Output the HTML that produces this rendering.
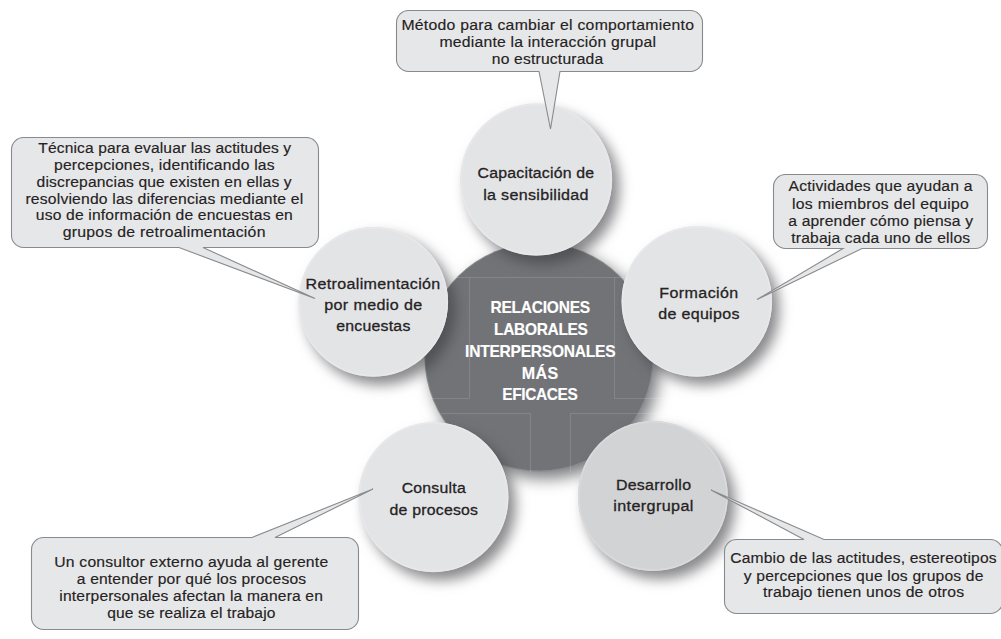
<!DOCTYPE html>
<html><head><meta charset="utf-8">
<style>
html,body{margin:0;padding:0;background:#fff;}
svg{display:block;}
text{font-family:"Liberation Sans",sans-serif;fill:#252223;stroke:#252223;stroke-width:0.16px;text-anchor:middle;}
.b{font-size:15.3px;}
.c{font-size:15.5px;stroke-width:0.3px;}
.m{font-size:15.9px;font-weight:bold;fill:#fff;stroke:#fff;stroke-width:0.15px;}
</style></head>
<body>
<svg width="1001" height="639" viewBox="0 0 1001 639">
<defs>
<filter id="sh" x="-30%" y="-30%" width="160%" height="160%" color-interpolation-filters="sRGB">
<feGaussianBlur in="SourceAlpha" stdDeviation="6.5"/>
<feOffset dx="7" dy="8" result="b"/>
<feFlood flood-color="#3a3b40" flood-opacity="0.6"/>
<feComposite in2="b" operator="in"/>
<feMerge><feMergeNode/><feMergeNode in="SourceGraphic"/></feMerge>
</filter>
<filter id="sh2" x="-30%" y="-30%" width="160%" height="160%" color-interpolation-filters="sRGB">
<feGaussianBlur in="SourceAlpha" stdDeviation="8"/>
<feOffset dx="6" dy="7" result="b"/>
<feFlood flood-color="#3a3b40" flood-opacity="0.68"/>
<feComposite in2="b" operator="in"/>
<feMerge><feMergeNode/><feMergeNode in="SourceGraphic"/></feMerge>
</filter>
</defs>
<circle cx="539" cy="357" r="114.5" fill="#727377" filter="url(#sh2)"/>
<circle cx="539" cy="357" r="114" fill="none" stroke="rgba(255,255,255,0.18)" stroke-width="1"/>
<g filter="url(#sh)"><circle cx="536.2" cy="179.6" r="76" fill="#e3e4e6"/><circle cx="536.2" cy="179.6" r="75" fill="none" stroke="#e8e8ea" stroke-width="1.6"/></g>
<g filter="url(#sh)"><circle cx="373.3" cy="301.9" r="74.8" fill="#e3e4e6"/><circle cx="373.3" cy="301.9" r="73.8" fill="none" stroke="#e8e8ea" stroke-width="1.6"/></g>
<g filter="url(#sh)"><circle cx="696.8" cy="301.5" r="75.3" fill="#e3e4e6"/><circle cx="696.8" cy="301.5" r="74.3" fill="none" stroke="#e8e8ea" stroke-width="1.6"/></g>
<g filter="url(#sh)"><circle cx="433.5" cy="497.2" r="75" fill="#e3e4e6"/><circle cx="433.5" cy="497.2" r="74" fill="none" stroke="#e8e8ea" stroke-width="1.6"/></g>
<g filter="url(#sh)"><circle cx="652.9" cy="496" r="75" fill="#d2d3d5"/><circle cx="652.9" cy="496" r="74" fill="none" stroke="#d9dadc" stroke-width="1.6"/></g>
<path d="M455,277.5 H624 M469.5,277.5 V398.5 M614.5,277.5 V398.5 M426,398.5 H469.5 M614.5,398.5 H670 M441,413.5 H530.5 V472 M570.5,472 V413.5 H690" stroke="rgba(255,255,255,0.13)" stroke-width="1" fill="none"/>
<g fill="#e6e7e8" stroke="#898a8d" stroke-width="1.1">
<path d="M408.5,10.5 H690.5 A12,12 0 0 1 702.5,22.5 V59.5 A12,12 0 0 1 690.5,71.5 H560 L550.5,129 L539,71.5 H408.5 A12,12 0 0 1 396.5,59.5 V22.5 A12,12 0 0 1 408.5,10.5 Z"/>
<path d="M23.5,137.5 H306.5 A12,12 0 0 1 318.5,149.5 V235.5 A12,12 0 0 1 306.5,247.5 H203 L315,298.5 L179,247.5 H23.5 A12,12 0 0 1 11.5,235.5 V149.5 A12,12 0 0 1 23.5,137.5 Z"/>
<path d="M785.5,174.5 H975.5 A12,12 0 0 1 987.5,186.5 V236.5 A12,12 0 0 1 975.5,248.5 H862 L757,299.5 L843,248.5 H785.5 A12,12 0 0 1 773.5,236.5 V186.5 A12,12 0 0 1 785.5,174.5 Z"/>
<path d="M43.5,537.5 H252 L373,489 L275,537.5 H346.5 A12,12 0 0 1 358.5,549.5 V617.5 A12,12 0 0 1 346.5,629.5 H43.5 A12,12 0 0 1 31.5,617.5 V549.5 A12,12 0 0 1 43.5,537.5 Z"/>
<path d="M736.5,539.5 H804 L711,490 L824,539.5 H990.5 A12,12 0 0 1 1002.5,551.5 V601.5 A12,12 0 0 1 990.5,613.5 H736.5 A12,12 0 0 1 724.5,601.5 V551.5 A12,12 0 0 1 736.5,539.5 Z"/>
</g>
<text class="b" x="547.8" y="30.1" style="letter-spacing:0.251px" textLength="292.8" lengthAdjust="spacingAndGlyphs">Método para cambiar el comportamiento</text>
<text class="b" x="547.8" y="46.6" style="letter-spacing:0.218px" textLength="216.8" lengthAdjust="spacingAndGlyphs">mediante la interacción grupal</text>
<text class="b" x="547.6" y="63.5" style="letter-spacing:0.188px" textLength="111.6" lengthAdjust="spacingAndGlyphs">no estructurada</text>
<text class="b" x="164.8" y="153.0" style="letter-spacing:0.126px" textLength="252.9" lengthAdjust="spacingAndGlyphs">Técnica para evaluar las actitudes y</text>
<text class="b" x="164.4" y="170.0" style="letter-spacing:0.192px" textLength="220.8" lengthAdjust="spacingAndGlyphs">percepciones, identificando las</text>
<text class="b" x="164.2" y="186.5" style="letter-spacing:0.146px" textLength="255.2" lengthAdjust="spacingAndGlyphs">discrepancias que existen en ellas y</text>
<text class="b" x="164.4" y="203.5" style="letter-spacing:0.189px" textLength="278.0" lengthAdjust="spacingAndGlyphs">resolviendo las diferencias mediante el</text>
<text class="b" x="164.4" y="220.0" style="letter-spacing:0.173px" textLength="257.2" lengthAdjust="spacingAndGlyphs">uso de información de encuestas en</text>
<text class="b" x="164.2" y="237.3" style="letter-spacing:0.257px" textLength="203.0" lengthAdjust="spacingAndGlyphs">grupos de retroalimentación</text>
<text class="b" x="880.6" y="191.2" style="letter-spacing:0.190px" textLength="184.0" lengthAdjust="spacingAndGlyphs">Actividades que ayudan a</text>
<text class="b" x="880.6" y="208.5" style="letter-spacing:0.256px" textLength="177.1" lengthAdjust="spacingAndGlyphs">los miembros del equipo</text>
<text class="b" x="880.7" y="225.5" style="letter-spacing:0.174px" textLength="184.9" lengthAdjust="spacingAndGlyphs">a aprender cómo piensa y</text>
<text class="b" x="880.8" y="242.5" style="letter-spacing:0.165px" textLength="178.9" lengthAdjust="spacingAndGlyphs">trabaja cada uno de ellos</text>
<text class="b" x="191.3" y="566.7" style="letter-spacing:0.204px" textLength="274.1" lengthAdjust="spacingAndGlyphs">Un consultor externo ayuda al gerente</text>
<text class="b" x="191.5" y="583.9" style="letter-spacing:0.168px" textLength="229.5" lengthAdjust="spacingAndGlyphs">a entender por qué los procesos</text>
<text class="b" x="191.2" y="600.6" style="letter-spacing:0.159px" textLength="263.7" lengthAdjust="spacingAndGlyphs">interpersonales afectan la manera en</text>
<text class="b" x="191.4" y="617.6" style="letter-spacing:0.120px" textLength="168.2" lengthAdjust="spacingAndGlyphs">que se realiza el trabajo</text>
<text class="b" x="863.5" y="563.4" style="letter-spacing:0.158px" textLength="266.5" lengthAdjust="spacingAndGlyphs">Cambio de las actitudes, estereotipos</text>
<text class="b" x="863.7" y="580.8" style="letter-spacing:0.179px" textLength="239.9" lengthAdjust="spacingAndGlyphs">y percepciones que los grupos de</text>
<text class="b" x="863.6" y="596.7" style="letter-spacing:0.217px" textLength="201.4" lengthAdjust="spacingAndGlyphs">trabajo tienen unos de otros</text>
<text class="c" x="536.0" y="178.1" style="letter-spacing:0.202px" textLength="116.8" lengthAdjust="spacingAndGlyphs">Capacitación de</text>
<text class="c" x="536.0" y="199.8" style="letter-spacing:0.295px" textLength="105.6" lengthAdjust="spacingAndGlyphs">la sensibilidad</text>
<text class="c" x="373.1" y="288.7" style="letter-spacing:0.316px" textLength="135.0" lengthAdjust="spacingAndGlyphs">Retroalimentación</text>
<text class="c" x="373.4" y="309.7" style="letter-spacing:0.357px" textLength="98.3" lengthAdjust="spacingAndGlyphs">por medio de</text>
<text class="c" x="373.4" y="331.0" style="letter-spacing:0.228px" textLength="74.3" lengthAdjust="spacingAndGlyphs">encuestas</text>
<text class="c" x="699.0" y="297.8" style="letter-spacing:0.381px" textLength="79.3" lengthAdjust="spacingAndGlyphs">Formación</text>
<text class="c" x="699.0" y="319.4" style="letter-spacing:0.325px" textLength="81.7" lengthAdjust="spacingAndGlyphs">de equipos</text>
<text class="c" x="433.8" y="492.8" style="letter-spacing:0.221px" textLength="64.3" lengthAdjust="spacingAndGlyphs">Consulta</text>
<text class="c" x="433.9" y="514.6" style="letter-spacing:0.212px" textLength="88.7" lengthAdjust="spacingAndGlyphs">de procesos</text>
<text class="c" x="653.6" y="489.6" style="letter-spacing:0.264px" textLength="75.4" lengthAdjust="spacingAndGlyphs">Desarrollo</text>
<text class="c" x="653.5" y="511.2" style="letter-spacing:0.362px" textLength="80.5" lengthAdjust="spacingAndGlyphs">intergrupal</text>
<text class="m" x="540.2" y="312.7" style="letter-spacing:-0.275px" textLength="99.3" lengthAdjust="spacingAndGlyphs">RELACIONES</text>
<text class="m" x="540.8" y="335.0" style="letter-spacing:-0.341px" textLength="93.5" lengthAdjust="spacingAndGlyphs">LABORALES</text>
<text class="m" x="540.2" y="356.7" style="letter-spacing:-0.248px" textLength="150.3" lengthAdjust="spacingAndGlyphs">INTERPERSONALES</text>
<text class="m" x="540.2" y="378.5" style="letter-spacing:0.338px" textLength="36.7" lengthAdjust="spacingAndGlyphs">MÁS</text>
<text class="m" x="539.9" y="400.1" style="letter-spacing:-0.371px" textLength="75.2" lengthAdjust="spacingAndGlyphs">EFICACES</text>
</svg>
</body></html>
